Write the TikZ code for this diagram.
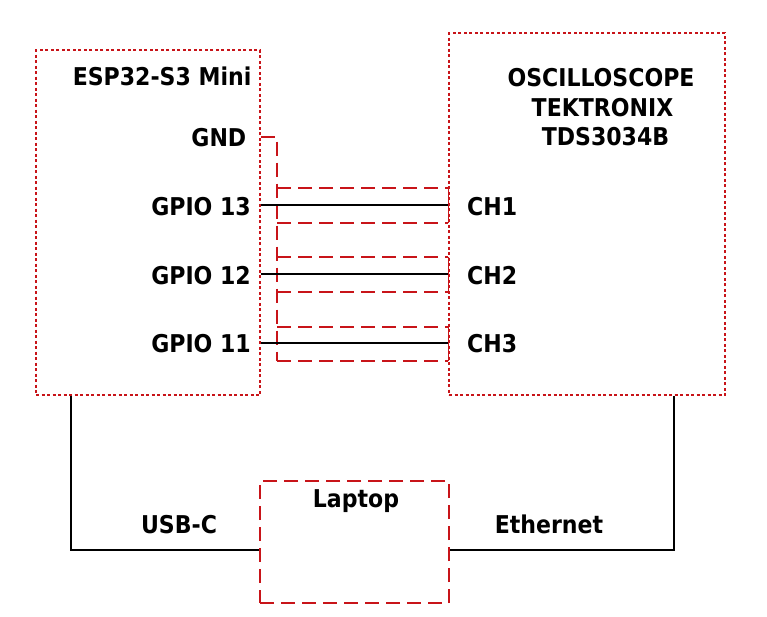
\documentclass[tikz,border=0pt]{standalone}
\usepackage{fontspec}
\newfontfamily\labfont{DejaVu Sans Condensed Bold}
\definecolor{dred}{RGB}{200,20,25}
\begin{document}
\begin{tikzpicture}[x=1pt,y=-1pt,
  lab/.style={font=\labfont\fontsize{24.5}{29}\selectfont, inner sep=0pt, text=black},
  board/.style={draw=dred, line width=1.25pt, dash pattern=on 3pt off 2.5pt, inner sep=0pt},
  boxdash/.style={draw=dred, line width=1.3pt, dash pattern=on 14pt off 7pt, inner sep=0pt},
  shield/.style={draw=dred, line width=1.3pt, dash pattern=on 14pt off 7pt},
  shieldend/.style={draw=dred, line width=1.3pt},
  wire/.style={draw=black, line width=1.1pt}
]
\useasboundingbox (0,0) rectangle (767,616);

% boxes
\node[board, minimum width=224pt, minimum height=345pt] (esp) at (148,222.5) {};
\node[board, minimum width=276pt, minimum height=362pt] (osc) at (587,214) {};
\node[boxdash, minimum width=189pt, minimum height=122pt] (laptop) at (354.5,542) {};

% labels
\node[lab, anchor=base east] (espname) at (251.5,85) {ESP32-S3 Mini};
\node[lab, anchor=base east] (gndlab) at (246.5,146) {GND};
\node[lab, anchor=base east] (g13) at (251,215) {GPIO 13};
\node[lab, anchor=base east] (g12) at (251,284) {GPIO 12};
\node[lab, anchor=base east] (g11) at (251,352) {GPIO 11};
\node[lab, anchor=base west] (ch1) at (467,215) {CH1};
\node[lab, anchor=base west] (ch2) at (467,284) {CH2};
\node[lab, anchor=base west] (ch3) at (467,352) {CH3};
\node[lab, anchor=base] (osc1) at (601,86) {OSCILLOSCOPE};
\node[lab, anchor=base] (osc2) at (602.5,116) {TEKTRONIX};
\node[lab, anchor=base] (osc3) at (605.5,145) {TDS3034B};
\node[lab, anchor=base] (laplab) at (356,507) {Laptop};
\node[lab, anchor=base] (usblab) at (179,533) {USB-C};
\node[lab, anchor=base] (ethlab) at (549,533) {Ethernet};

% pin coordinates
\coordinate (pgnd) at (esp.east |- 0,137);
\coordinate (gndc) at (277,137);
\coordinate (gndb) at (277,361);
\coordinate (p13) at (esp.east |- 0,205);
\coordinate (p12) at (esp.east |- 0,274);
\coordinate (p11) at (esp.east |- 0,343);
\coordinate (c1) at (osc.west |- 0,205);
\coordinate (c2) at (osc.west |- 0,274);
\coordinate (c3) at (osc.west |- 0,343);

% shields
\coordinate (s1a) at (277,188); \coordinate (s1b) at (osc.west |- 0,188);
\coordinate (s1c) at (osc.west |- 0,223); \coordinate (s1d) at (277,223);
\coordinate (s2a) at (277,257); \coordinate (s2b) at (osc.west |- 0,257);
\coordinate (s2c) at (osc.west |- 0,292); \coordinate (s2d) at (277,292);
\coordinate (s3a) at (277,327); \coordinate (s3b) at (osc.west |- 0,327);
\coordinate (s3c) at (osc.west |- 0,361); \coordinate (s3d) at (277,361);

\draw[shield] (pgnd) -- (gndc) -- (gndb);
\foreach \s in {1,2,3}{
  \draw[shield] (s\s a) -- (s\s b);
  \draw[shield] (s\s d) -- (s\s c);
  \draw[shieldend] (s\s b) -- (s\s c);
}

% signal wires
\draw[wire] (p13) -- (c1);
\draw[wire] (p12) -- (c2);
\draw[wire] (p11) -- (c3);

% USB and Ethernet
\coordinate (usbt) at (esp.south -| 71,0);
\coordinate (ltl) at (laptop.west |- 0,550);
\coordinate (ltr) at (laptop.east |- 0,550);
\coordinate (etht) at (osc.south -| 674,0);
\draw[wire] (usbt) |- (ltl);
\draw[wire] (etht) |- (ltr);
\end{tikzpicture}
\end{document}
